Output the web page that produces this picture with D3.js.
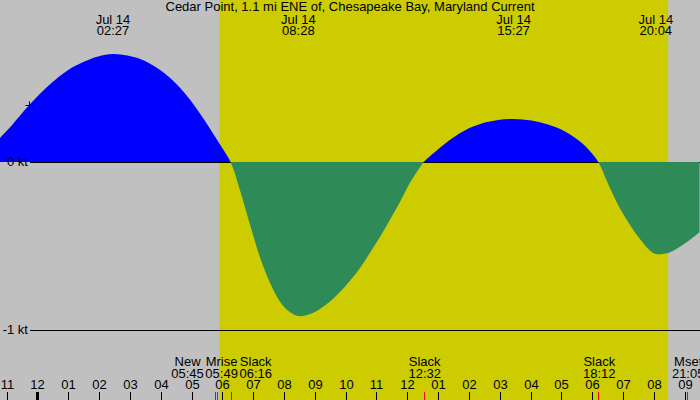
<!DOCTYPE html>
<html>
<head>
<meta charset="utf-8">
<script src="https://cdn.jsdelivr.net/npm/d3@7"></script>
<style>
  body { margin: 0; background: #c0c0c0; }
  svg { display: block; }
  text { font-family: "Liberation Sans", Arial, sans-serif; font-size: 13px; fill: #000; }
</style>
</head>
<body>
<div id="chart"></div>
<script>
// current speed in knots (+ flood, - ebb)
const flowTimes = [
  '07-13 22:47', '07-13 23:07', '07-13 23:44', '07-14 00:25', '07-14 00:57', '07-14 01:29',
  '07-14 01:58', '07-14 02:27', '07-14 02:55', '07-14 03:20', '07-14 03:59', '07-14 04:38',
  '07-14 05:17', '07-14 05:56', '07-14 06:16', '07-14 06:35', '07-14 06:54', '07-14 07:13',
  '07-14 07:33', '07-14 07:52', '07-14 08:12', '07-14 08:28', '07-14 08:51', '07-14 09:10',
  '07-14 09:29', '07-14 09:49', '07-14 10:08', '07-14 10:28', '07-14 10:47', '07-14 11:07',
  '07-14 11:26', '07-14 11:46', '07-14 12:05', '07-14 12:25', '07-14 12:32', '07-14 12:54',
  '07-14 13:20', '07-14 13:52', '07-14 14:25', '07-14 14:57', '07-14 15:27', '07-14 16:02',
  '07-14 16:34', '07-14 17:07', '07-14 17:40', '07-14 17:59', '07-14 18:12', '07-14 18:34',
  '07-14 18:53', '07-14 19:13', '07-14 19:33', '07-14 19:52', '07-14 20:04', '07-14 20:31',
  '07-14 20:51', '07-14 21:10', '07-14 21:29',
];
const flowKnots = [
  0.143, 0.208, 0.339, 0.464, 0.542, 0.595,
  0.628, 0.643, 0.634, 0.613, 0.548, 0.440,
  0.286, 0.101, 0, -0.175, -0.375, -0.565,
  -0.720, -0.830, -0.895, -0.917, -0.905, -0.875,
  -0.832, -0.774, -0.708, -0.631, -0.542, -0.445,
  -0.345, -0.236, -0.125, -0.030, 0, 0.060,
  0.125, 0.188, 0.229, 0.250, 0.256, 0.247,
  0.223, 0.182, 0.113, 0.054, 0, -0.150,
  -0.270, -0.372, -0.458, -0.525, -0.548, -0.538,
  -0.505, -0.464, -0.418,
];

// max flood / max ebb labels at the top
const extremeTimes = ['07-14 02:27', '07-14 08:28', '07-14 15:27', '07-14 20:04'];

// moon and slack events at the bottom
const eventNames = ['New', 'Mrise', 'Slack', 'Slack', 'Slack', 'Mset'];
const eventTimes = ['07-14 05:45', '07-14 05:49', '07-14 06:16', '07-14 12:32', '07-14 18:12', '07-14 21:05'];

// daylight (sunrise, sunset)
const sunTimes = ['07-14 05:54', '07-14 20:28'];

const levelKnots = [0, -1];
const levelLabels = ['0 kt', '-1 kt'];

const markTime = '07-13 23:44';
const markKnots = 0.34;

const title = 'Cedar Point, 1.1 mi ENE of, Chesapeake Bay, Maryland Current';

const width = 700, height = 400;
const parse = d3.timeParse('%m-%d %H:%M');
const fmtTime = d3.timeFormat('%H:%M');
const fmtDay = d3.timeFormat('%b %d');

const x = d3.scaleTime()
  .domain([parse('07-13 22:47'), parse('07-14 21:30')])
  .range([0, width]);
const y = d3.scaleLinear()
  .domain([-1, 0])
  .range([330, 162]);

const flow = flowTimes.map((t, i) => ({ t: parse(t), v: flowKnots[i] }));

const svg = d3.select('#chart')
  .append('svg')
  .attr('width', width)
  .attr('height', height);

// night background + daylight band
svg.append('rect')
  .attr('width', width)
  .attr('height', height)
  .attr('fill', '#c0c0c0');
svg.append('rect')
  .attr('x', x(parse(sunTimes[0])))
  .attr('width', x(parse(sunTimes[1])) - x(parse(sunTimes[0])))
  .attr('height', height)
  .attr('fill', '#cccc00');

// title
svg.append('text')
  .attr('x', width / 2)
  .attr('y', 11)
  .attr('text-anchor', 'middle')
  .text(title);

// zero line goes under the fills, only shows below the flood
const y0 = y(0);
svg.append('line')
  .attr('x1', 30).attr('x2', width)
  .attr('y1', y0 + 0.5).attr('y2', y0 + 0.5)
  .attr('stroke', '#000');

// flood (blue) / ebb (green) via clip paths
const defs = svg.append('defs');
defs.append('clipPath').attr('id', 'above')
  .append('rect').attr('width', width).attr('height', y0);
defs.append('clipPath').attr('id', 'below')
  .append('rect').attr('y', y0).attr('width', width).attr('height', height - y0);

const area = d3.area()
  .x(d => x(d.t))
  .y0(y0)
  .y1(d => y(d.v))
  .curve(d3.curveCatmullRom.alpha(0.5));

svg.append('path')
  .attr('d', area(flow))
  .attr('fill', '#0000ff')
  .attr('clip-path', 'url(#above)');
svg.append('path')
  .attr('d', area(flow))
  .attr('fill', '#2e8b57')
  .attr('clip-path', 'url(#below)');

// level lines and labels
levelKnots.forEach((k, i) => {
  if (k !== 0) {
    svg.append('line')
      .attr('x1', 30).attr('x2', width)
      .attr('y1', Math.round(y(k)) + 0.5).attr('y2', Math.round(y(k)) + 0.5)
      .attr('stroke', '#000');
  }
  svg.append('text')
    .attr('x', 28)
    .attr('y', y(k) + 4)
    .attr('text-anchor', 'end')
    .text(levelLabels[i]);
});

// "+" mark
const mx = Math.round(x(parse(markTime))) + 0.5, my = Math.round(y(markKnots)) + 0.5;
svg.append('path')
  .attr('d', `M${mx - 4},${my}H${mx + 4}M${mx},${my - 4}V${my + 4}`)
  .attr('stroke', '#000');

// extremes at the top
extremeTimes.forEach(t => {
  const d = parse(t);
  const g = svg.append('g').attr('transform', `translate(${x(d)},0)`);
  g.append('text').attr('y', 24).attr('text-anchor', 'middle').text(fmtDay(d));
  g.append('text').attr('y', 35).attr('text-anchor', 'middle').text(fmtTime(d));
});

// hour axis at the bottom
const hours = x.ticks(d3.timeHour.every(1));
hours.forEach(h => {
  const hx = Math.round(x(h));
  const isMidnight = +d3.timeDay(h) === +h;
  svg.append('rect')
    .attr('x', isMidnight ? hx - 1 : hx)
    .attr('y', 392)
    .attr('width', isMidnight ? 3 : 1)
    .attr('height', 8)
    .attr('fill', '#000');
  svg.append('text')
    .attr('x', hx + 0.5)
    .attr('y', 389)
    .attr('text-anchor', 'middle')
    .text(d3.timeFormat('%I')(h));
});

// events: red ticks + labels pushed apart where they overlap
const events = eventTimes.map((t, i) => ({ t: parse(t), name: eventNames[i] }));
events.forEach(e => {
  const ex = Math.round(x(e.t));
  svg.append('rect')
    .attr('x', ex).attr('y', 392)
    .attr('width', 1).attr('height', 8)
    .attr('fill', '#ff0000');
});

const labels = events.map(e => {
  const g = svg.append('g');
  g.append('text').attr('y', 366).attr('text-anchor', 'middle').text(e.name);
  g.append('text').attr('y', 378).attr('text-anchor', 'middle').text(fmtTime(e.t));
  return { g: g, x: x(e.t), w: g.node().getBBox().width + 1.5 };
});

// group overlapping labels into clusters centred on their events
let clusters = labels.map(l => ({ items: [l], sum: l.x }));
let merged = true;
while (merged) {
  merged = false;
  clusters.forEach(c => {
    const total = d3.sum(c.items, l => l.w);
    c.left = c.sum / c.items.length - total / 2 + 1;
    c.right = c.left + total;
  });
  for (let i = 0; i < clusters.length - 1; i++) {
    if (clusters[i].right > clusters[i + 1].left) {
      clusters[i].items = clusters[i].items.concat(clusters[i + 1].items);
      clusters[i].sum += clusters[i + 1].sum;
      clusters.splice(i + 1, 1);
      merged = true;
      break;
    }
  }
}
clusters.forEach(c => {
  let cx = c.left;
  c.items.forEach(l => {
    l.g.attr('transform', `translate(${cx + l.w / 2},0)`);
    cx += l.w;
  });
});
</script>
</body>
</html>
